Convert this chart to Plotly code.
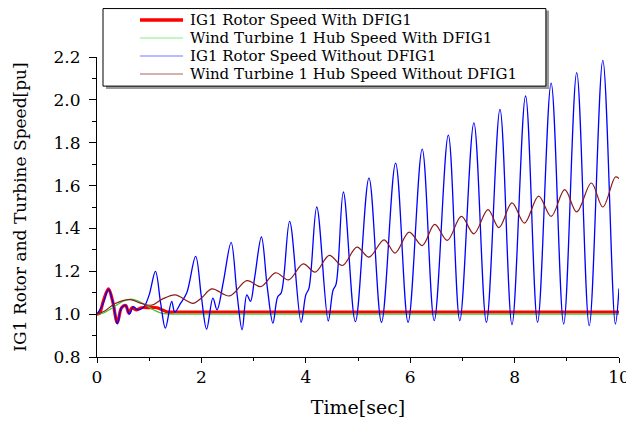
import plotly.graph_objects as go

# ---- data ----
red_t = [0, 0.05, 0.12, 0.22, 0.30, 0.39, 0.47, 0.55, 0.61, 0.67, 0.75, 0.85, 1.0, 1.15, 1.25, 1.35, 1.5, 3.0, 6.0, 10.0]
red_v = [1.0, 1.005, 1.06, 1.118, 1.06, 0.96, 1.03, 1.04, 1.005, 1.03, 1.02, 1.03, 1.03, 1.03, 1.02, 1.01, 1.01, 1.01, 1.01, 1.01]

green_t = [0, 0.1, 0.3, 0.5, 0.65, 0.8, 0.95, 1.1, 1.27, 1.5, 2.0, 5.0, 10.0]
green_v = [1.0, 1.003, 1.03, 1.06, 1.07, 1.06, 1.04, 1.018, 1.002, 1.0, 1.0, 1.0, 1.0]

blue_t = [0, 0.1, 0.22, 0.30, 0.39, 0.47, 0.55, 0.62, 0.70, 0.78, 0.90, 1.0, 1.12, 1.22, 1.31,
          1.43, 1.49, 1.60, 1.72, 1.89, 2.0, 2.10, 2.22, 2.30, 2.42, 2.57, 2.68, 2.78, 2.87,
          2.94, 3.02, 3.15, 3.26, 3.37, 3.46, 3.53, 3.69, 3.91, 4.0, 4.06, 4.21, 4.43, 4.52,
          4.58, 4.72, 4.95, 5.21, 5.45, 5.72, 5.96, 6.23, 6.46, 6.73, 6.95, 7.22, 7.46, 7.72,
          7.95, 8.21, 8.44, 8.70, 8.94, 9.19, 9.43, 9.69, 9.93, 10.0]
blue_v = [1.0, 1.04, 1.115, 1.06, 0.955, 1.03, 1.04, 1.0, 1.035, 1.02, 1.035, 1.09, 1.2, 1.05, 0.935,
          1.06, 1.01, 1.05, 1.1, 1.27, 1.08, 0.93, 1.075, 1.02, 1.15, 1.335, 1.1, 0.927, 1.09,
          1.06, 1.17, 1.36, 1.13, 0.958, 1.08, 1.10, 1.433, 0.962, 1.09, 1.12, 1.5, 0.968, 1.11,
          1.14, 1.57, 0.965, 1.635, 0.962, 1.705, 0.962, 1.77, 0.97, 1.835, 0.97, 1.893, 0.962, 1.956,
          0.951, 2.018, 0.962, 2.078, 0.954, 2.127, 0.946, 2.184, 0.954, 1.12]

brown_t = [0, 0.15, 0.35, 0.63, 0.85, 1.05, 1.25, 1.5, 1.7, 1.84, 2.0, 2.2, 2.54, 2.87, 3.14, 3.42,
           3.67, 3.95, 4.18, 4.45, 4.70, 4.98, 5.21, 5.50, 5.71, 5.98, 6.23, 6.47, 6.71, 6.98,
           7.22, 7.49, 7.70, 7.95, 8.19, 8.46, 8.70, 8.96, 9.19, 9.47, 9.69, 9.93, 10.0]
brown_v = [1.0, 1.015, 1.05, 1.068, 1.05, 1.042, 1.07, 1.09, 1.065, 1.05, 1.075, 1.118, 1.085, 1.156,
           1.129, 1.193, 1.16, 1.235, 1.196, 1.274, 1.227, 1.313, 1.266, 1.347, 1.285, 1.383, 1.32,
           1.419, 1.344, 1.456, 1.375, 1.488, 1.404, 1.519, 1.425, 1.551, 1.456, 1.581, 1.477, 1.612,
           1.5, 1.64, 1.633]

names = ["IG1 Rotor Speed With DFIG1", "Wind Turbine 1 Hub Speed With DFIG1",
         "IG1 Rotor Speed Without DFIG1", "Wind Turbine 1 Hub Speed Without DFIG1"]
colors = ["#ff0000", "#33cc33", "#0000ff", "#8b1a1a"]
widths = [3.2, 1.2, 1.3, 1.2]
series_t = [red_t, green_t, blue_t, brown_t]
series_v = [red_v, green_v, blue_v, brown_v]

x_ticks = [0, 2, 4, 6, 8, 10]
y_ticks = [0.8, 1.0, 1.2, 1.4, 1.6, 1.8, 2.0, 2.2]

FONT = "DejaVu Serif"

fig = go.Figure()
for t, v, n, c, w in zip(series_t, series_v, names, colors, widths):
    fig.add_trace(go.Scatter(x=t, y=v, name=n, mode="lines", showlegend=False,
                             line=dict(color=c, width=w, shape="spline")))

# legend frame with shadow (paper coordinates)
fig.add_shape(type="rect", xref="paper", yref="paper", x0=0.0172, x1=0.866, y0=0.893, y1=1.155,
              line=dict(width=0), fillcolor="#9a9a9a", layer="above")
fig.add_shape(type="rect", xref="paper", yref="paper", x0=0.0115, x1=0.860, y0=0.903, y1=1.1615,
              line=dict(width=1, color="#000000"), fillcolor="#ffffff", layer="above")
row_y = [1.1233, 1.0633, 1.0033, 0.9433]
legend_w = [3.5, 1.2, 1.2, 1.2]
legend_c = ["#ff0000", "#88ee88", "#7777ff", "#b06060"]
for ry, n, c, w in zip(row_y, names, legend_c, legend_w):
    fig.add_shape(type="line", xref="paper", yref="paper", x0=0.0824, x1=0.1648, y0=ry, y1=ry,
                  line=dict(color=c, width=w), layer="above")
    fig.add_annotation(xref="paper", yref="paper", x=0.1743, y=ry, text=n, showarrow=False,
                       xanchor="left", yanchor="middle",
                       font=dict(family=FONT, size=15, color="black"))

fig.update_layout(
    template="none",
    width=626, height=415,
    margin=dict(l=89, r=15, t=49, b=66),
    paper_bgcolor="white", plot_bgcolor="white",
    font=dict(family=FONT, color="black", size=16),
    showlegend=False,
    xaxis=dict(range=[0, 10], tickvals=x_ticks, ticks="outside", ticklen=5, tickwidth=1,
               tickcolor="black", showline=True, linecolor="black", linewidth=1,
               showgrid=False, zeroline=False, automargin=False,
               minor=dict(dtick=1, ticks="outside", ticklen=3, tickcolor="black", showgrid=False),
               title=dict(text="Time[sec]", font=dict(family=FONT, size=19), standoff=14),
               tickfont=dict(family=FONT, size=17)),
    yaxis=dict(range=[0.8, 2.2], tickvals=y_ticks, tickformat=".1f", ticks="outside", ticklen=7,
               tickwidth=1, tickcolor="black", showline=True, linecolor="black", linewidth=1,
               showgrid=False, zeroline=False, ticklabelstandoff=5, automargin=False,
               minor=dict(dtick=0.1, ticks="outside", ticklen=4, tickcolor="black", showgrid=False),
               title=dict(text="IG1 Rotor and Turbine Speed[pu]", font=dict(family=FONT, size=17),
                          standoff=22),
               tickfont=dict(family=FONT, size=17)),
)

fig.write_html("out.html")
